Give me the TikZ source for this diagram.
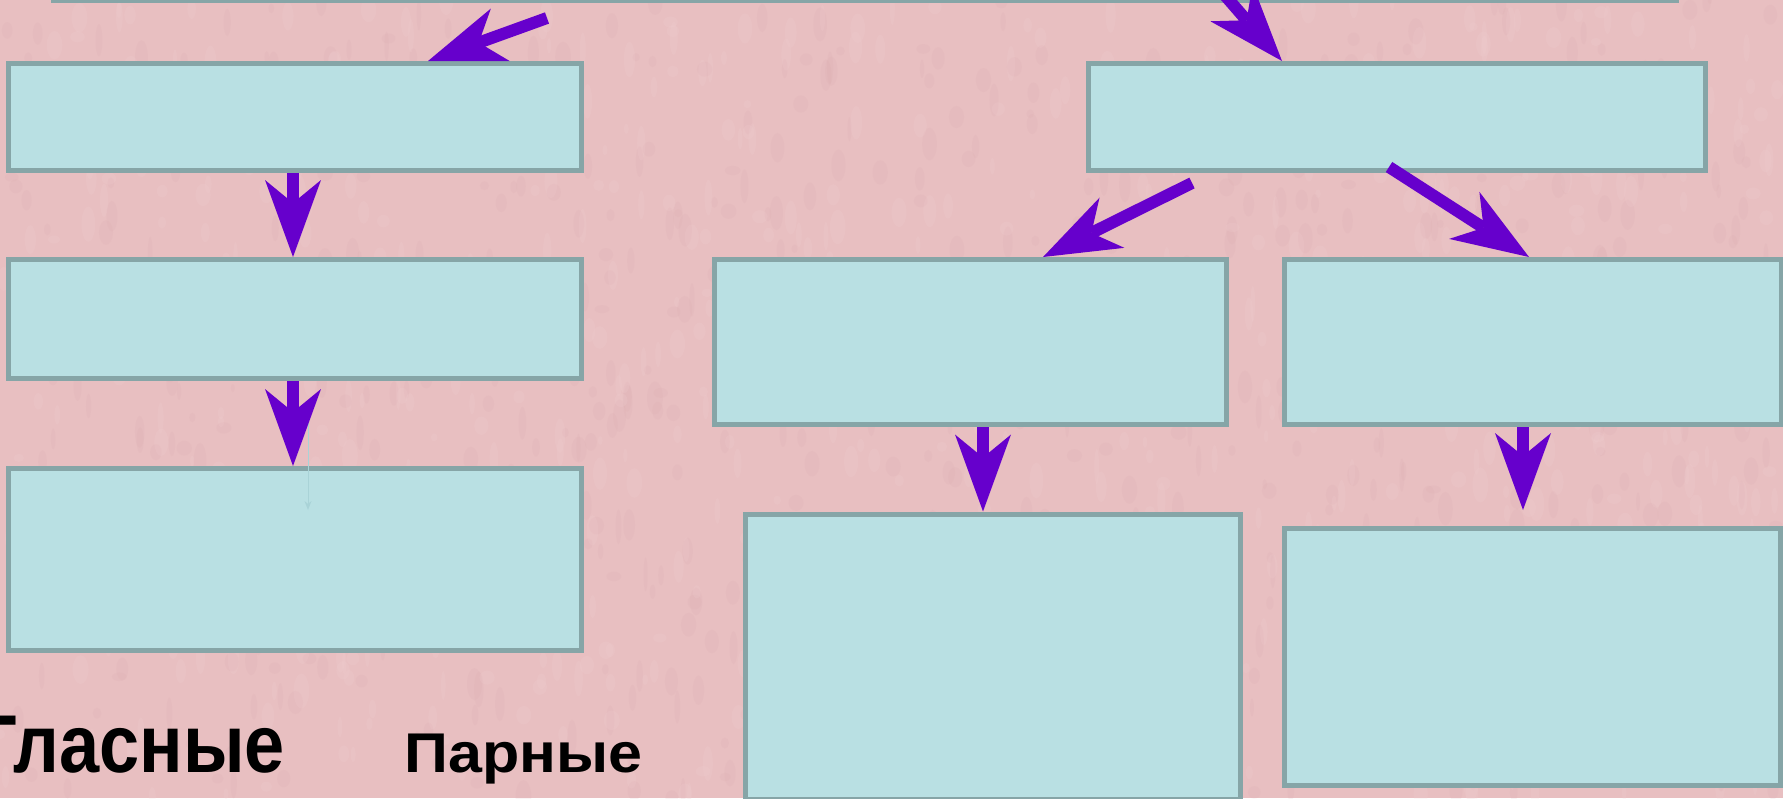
\documentclass[tikz,border=0pt]{standalone}
\usepackage{fontspec}
\setmainfont{Liberation Sans}
\usetikzlibrary{arrows.meta,calc}
\definecolor{bgpink}{HTML}{E8BFC1}
\definecolor{pinkdark}{HTML}{D6A6AA}
\definecolor{pinklight}{HTML}{F3D3D5}
\definecolor{boxc}{HTML}{B9E0E3}
\definecolor{bordc}{HTML}{86A5A7}
\definecolor{arrc}{HTML}{6600CC}
\definecolor{faintc}{HTML}{A9D3D7}
\begin{document}
\begin{tikzpicture}[x=1pt,y=-1pt,
  box/.style={draw=bordc, fill=boxc, line width=5pt, rectangle, inner sep=0pt, anchor=north west},
  arr/.style={draw=arrc, line width=12pt, -{Stealth[length=77pt,width=56pt,inset=23pt,line width=0pt]}},
  faint/.style={draw=faintc, line width=1pt, -{Stealth[length=9pt,width=7pt,line width=0pt]}},
  lbl/.style={inner sep=0pt},
  blotd/.style={fill=pinkdark, opacity=0.12},
  blotl/.style={fill=pinklight, opacity=0.16}]
\useasboundingbox (0,0) rectangle (1783,798);
\fill[bgpink] (0,0) rectangle (1783,798);
% background texture
\begin{scope}
\clip (0,0) rectangle (1783,798);
\pgfmathsetseed{4711}
\foreach \i in {1,...,700}{
  \pgfmathsetmacro\rx{rnd*1783}
  \pgfmathsetmacro\ry{rnd*798}
  \pgfmathsetmacro\ra{4+rnd*14}
  \pgfmathsetmacro\rb{2+rnd*6}
  \fill[blotd] (\rx,\ry) ellipse [x radius=\rb, y radius=\ra];
}
\foreach \i in {1,...,700}{
  \pgfmathsetmacro\rx{rnd*1783}
  \pgfmathsetmacro\ry{rnd*798}
  \pgfmathsetmacro\ra{4+rnd*14}
  \pgfmathsetmacro\rb{2+rnd*6}
  \fill[blotl] (\rx,\ry) ellipse [x radius=\rb, y radius=\ra];
}
\end{scope}
% boxes
\node[box, minimum width=1623pt, minimum height=200pt, anchor=south west] (T) at (51,2.5) {};
\node[box, minimum width=573pt, minimum height=107pt] (L1) at (6,61) {};
\node[box, minimum width=573pt, minimum height=119pt] (L2) at (6,257) {};
\node[box, minimum width=573pt, minimum height=182pt] (L3) at (6,466) {};
\node[box, minimum width=617pt, minimum height=107pt] (R1) at (1086,61) {};
\node[box, minimum width=512pt, minimum height=165pt] (R2a) at (712,257) {};
\node[box, minimum width=497pt, minimum height=165pt] (R2b) at (1282,257) {};
\node[box, minimum width=495pt, minimum height=285pt] (R3a) at (743,511.5) {};
\node[box, minimum width=496pt, minimum height=257pt] (R3b) at (1282,526) {};
% free ends
\coordinate (a1t) at (547,18);
\coordinate (a4t) at (1222,-8);
\coordinate (a5t) at (1192,183);
\coordinate (a6t) at (1389,167);
\coordinate (a8h) at (1523,510);
\coordinate (ft) at (308,423);
\coordinate (fh) at (308,510);
% arrows
\draw[faint] (ft) -- (fh);
\draw[arr] (a1t) -- ([xshift=422pt]L1.north west);
\draw[arr] ([xshift=287pt]L1.south west) -- ([xshift=287pt]L2.north west);
\draw[arr] ([xshift=287pt]L2.south west) -- ([xshift=287pt]L3.north west);
\draw[arr] (a4t) -- ([xshift=196pt]R1.north west);
\draw[arr] (a5t) -- ([xshift=331pt]R2a.north west);
\draw[arr] (a6t) -- ([xshift=247pt]R2b.north west);
\draw[arr] ([xshift=271pt]R2a.south west) -- ([xshift=240pt]R3a.north west);
\draw[arr] ([xshift=241pt]R2b.south west) -- (a8h);
% labels
\node[lbl, anchor=base east] (g) at (285,772)
  {\scalebox{0.88}[1]{\bfseries\fontsize{82pt}{96pt}\selectfont Гласные}};
\node[lbl, anchor=base west] (p) at (404,772)
  {\scalebox{1.09}[1]{\bfseries\fontsize{56pt}{66pt}\selectfont Парные}};
\end{tikzpicture}
\end{document}
